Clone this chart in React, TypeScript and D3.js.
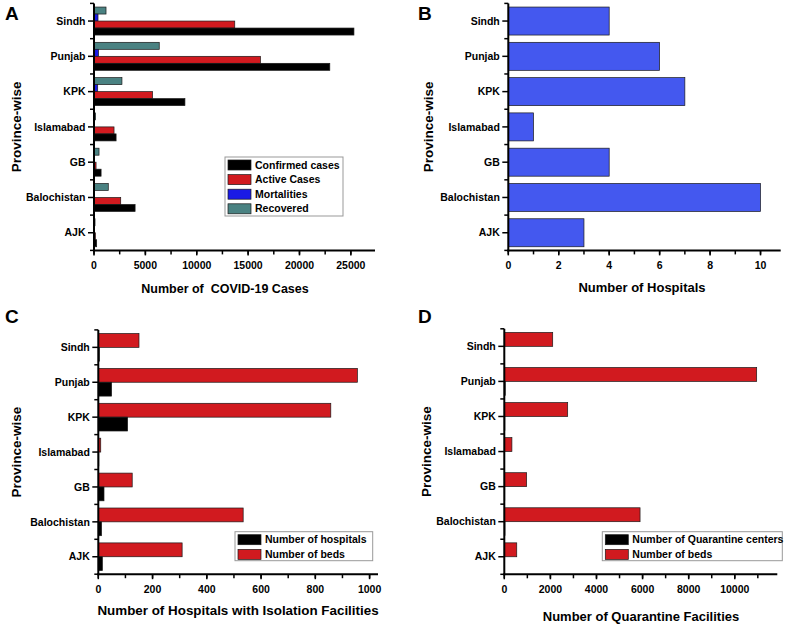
import React from "react";
import * as d3 from "d3";

const provinces = ["Sindh", "Punjab", "KPK", "Islamabad", "GB", "Balochistan", "AJK"];

// Panel A
const confirmedCases = [25300, 22950, 8850, 2150, 690, 4000, 260];
const activeCases = [13700, 16200, 5700, 1950, 200, 2600, 140];
const mortalities = [390, 440, 360, 20, 10, 40, 5];
const recovered = [1170, 6350, 2720, 160, 490, 1390, 100];
const ticksA = [0, 5000, 10000, 15000, 20000, 25000];

// Panel B
const hospitals = [4, 6, 7, 1, 4, 10, 3];
const ticksB = [0, 2, 4, 6, 8, 10];

// Panel C
const isolationHospitals = [4, 49, 108, 2, 21, 12, 15];
const isolationBeds = [150, 955, 857, 9, 125, 534, 309];
const ticksC = [0, 200, 400, 600, 800, 1000];

// Panel D
const quarantineCenters = [15, 40, 25, 5, 20, 30, 10];
const quarantineBeds = [2100, 10950, 2750, 330, 970, 5890, 540];
const ticksD = [0, 2000, 4000, 6000, 8000, 10000];

const FONT = "'Liberation Sans', Arial, Helvetica, sans-serif";
const RED = "#d11a1f";
const BLACK = "#000000";
const BLUE_M = "#1a1ae6";
const TEAL = "#4a8282";
const BLUE_B = "#4458ef";

type Series = { name: string; values: number[]; color: string };

type PanelProps = {
  letter: string;
  letterX: number;
  letterY: number;
  x0: number;
  x1: number;
  top: number;
  bottom: number;
  xMax: number;
  ticks: number[];
  minorStep: number;
  series: Series[]; // top to bottom within band
  padOuter: number;
  title: string;
  titleX: number;
  titleY: number;
  titleSize: number;
  yTitleX: number;
  tickLabelDy: number;
  legend?: { x: number; y: number; w: number; h: number; rowH: number; items: Series[] };
};

function Panel(p: PanelProps) {
  const x = d3.scaleLinear().domain([0, p.xMax]).range([p.x0, p.x1]);
  const y = d3.scaleBand<string>().domain(provinces).range([p.top, p.bottom]).paddingInner(0).paddingOuter(0);
  const inner = d3
    .scaleBand<string>()
    .domain(p.series.map((s) => s.name))
    .range([0, y.bandwidth()])
    .paddingInner(0)
    .paddingOuter(p.padOuter);
  const minor = d3.range(0, p.xMax + 1e-9, p.minorStep);
  const boundaries = d3.range(0, provinces.length + 1).map((i) => p.top + i * y.step());
  const yMid = (p.top + p.bottom) / 2;
  return (
    <g>
      <text x={p.letterX} y={p.letterY} fontSize={19} fontWeight="bold" fontFamily={FONT}>
        {p.letter}
      </text>
      {p.series.map((s) =>
        s.values.map((v, i) => (
          <rect
            key={s.name + i}
            x={x(0)}
            y={(y(provinces[i]) as number) + (inner(s.name) as number)}
            width={Math.max(0, x(v) - x(0))}
            height={inner.bandwidth()}
            fill={s.color}
            stroke="#1a1a1a"
            strokeWidth={0.7}
          />
        ))
      )}
      {/* y axis */}
      <line x1={p.x0} x2={p.x0} y1={p.top} y2={p.bottom + 1} stroke="#000" strokeWidth={2} />
      {boundaries.map((b, i) => (
        <line key={"yb" + i} x1={p.x0 - 4} x2={p.x0} y1={b} y2={b} stroke="#000" strokeWidth={1.5} />
      ))}
      {provinces.map((c) => {
        const cy = (y(c) as number) + y.bandwidth() / 2;
        return (
          <g key={"yl" + c}>
            <line x1={p.x0 - 6} x2={p.x0} y1={cy} y2={cy} stroke="#000" strokeWidth={1.5} />
            <text
              x={p.x0 - 8.5}
              y={cy}
              dy="0.35em"
              textAnchor="end"
              fontSize={10.5}
              fontWeight="bold"
              fontFamily={FONT}
            >
              {c}
            </text>
          </g>
        );
      })}
      {/* x axis */}
      <line x1={p.x0 - 1} x2={p.x1} y1={p.bottom} y2={p.bottom} stroke="#000" strokeWidth={2} />
      {minor.map((m, i) => (
        <line key={"xm" + i} x1={x(m)} x2={x(m)} y1={p.bottom} y2={p.bottom + 4} stroke="#000" strokeWidth={1.5} />
      ))}
      {p.ticks.map((t) => (
        <g key={"xt" + t}>
          <line x1={x(t)} x2={x(t)} y1={p.bottom} y2={p.bottom + 5} stroke="#000" strokeWidth={1.5} />
          <text
            x={x(t)}
            y={p.bottom + p.tickLabelDy}
            textAnchor="middle"
            fontSize={10.5}
            fontWeight="bold"
            fontFamily={FONT}
          >
            {t}
          </text>
        </g>
      ))}
      <text
        x={p.titleX}
        y={p.titleY}
        textAnchor="middle"
        fontSize={p.titleSize}
        fontWeight="bold"
        fontFamily={FONT}
        style={{ whiteSpace: "pre" }}
      >
        {p.title}
      </text>
      <text
        transform={`translate(${p.yTitleX},${yMid}) rotate(-90)`}
        textAnchor="middle"
        dy="0.35em"
        fontSize={13.5}
        fontWeight="bold"
        fontFamily={FONT}
      >
        Province-wise
      </text>
      {p.legend && (
        <g>
          <rect
            x={p.legend.x}
            y={p.legend.y}
            width={p.legend.w}
            height={p.legend.h}
            fill="#fff"
            stroke="#999"
            strokeWidth={1}
          />
          {p.legend.items.map((it, i) => {
            const cy = p.legend!.y + 8 + i * p.legend!.rowH;
            return (
              <g key={"lg" + it.name}>
                <rect x={p.legend!.x + 3} y={cy - 5} width={23} height={10} fill={it.color} stroke="#1a1a1a" strokeWidth={0.7} />
                <text x={p.legend!.x + 30} y={cy} dy="0.35em" fontSize={10.5} fontWeight="bold" fontFamily={FONT}>
                  {it.name}
                </text>
              </g>
            );
          })}
        </g>
      )}
    </g>
  );
}

export default function App() {
  const seriesA: Series[] = [
    { name: "Recovered", values: recovered, color: TEAL },
    { name: "Mortalities", values: mortalities, color: BLUE_M },
    { name: "Active Cases", values: activeCases, color: RED },
    { name: "Confirmed cases", values: confirmedCases, color: BLACK },
  ];
  const seriesB: Series[] = [{ name: "Number of Hospitals", values: hospitals, color: BLUE_B }];
  const seriesC: Series[] = [
    { name: "Number of beds", values: isolationBeds, color: RED },
    { name: "Number of hospitals", values: isolationHospitals, color: BLACK },
  ];
  const seriesD: Series[] = [
    { name: "Number of beds", values: quarantineBeds, color: RED },
    { name: "Number of Quarantine centers", values: quarantineCenters, color: BLACK },
  ];
  return (
    <svg
      width={788}
      height={629}
      style={{ position: "absolute", left: 0, top: 0, background: "#fff" }}
    >
      <Panel
        letter="A"
        letterX={5}
        letterY={20}
        x0={94}
        x1={375}
        top={3.4}
        bottom={250.4}
        xMax={27350}
        ticks={ticksA}
        minorStep={2500}
        series={seriesA}
        padOuter={0.52}
        title="Number of  COVID-19 Cases"
        titleX={225}
        titleY={293}
        titleSize={12.5}
        yTitleX={16}
        tickLabelDy={19}
        legend={{ x: 225, y: 157, w: 118, h: 59, rowH: 14.6, items: [seriesA[3], seriesA[2], seriesA[1], seriesA[0]] }}
      />
      <Panel
        letter="B"
        letterX={418}
        letterY={20}
        x0={508.3}
        x1={780.7}
        top={3.4}
        bottom={250.4}
        xMax={10.8}
        ticks={ticksB}
        minorStep={1}
        series={seriesB}
        padOuter={0.13}
        title="Number of Hospitals"
        titleX={642}
        titleY={292}
        titleSize={13}
        yTitleX={428.5}
        tickLabelDy={19}
      />
      <Panel
        letter="C"
        letterX={5}
        letterY={323}
        x0={98.3}
        x1={378}
        top={329.9}
        bottom={574.2}
        xMax={1031}
        ticks={ticksC}
        minorStep={100}
        series={seriesC}
        padOuter={0.26}
        title="Number of Hospitals with Isolation Facilities"
        titleX={238}
        titleY={615}
        titleSize={13.4}
        yTitleX={16.5}
        tickLabelDy={18.5}
        legend={{ x: 235, y: 531.7, w: 137.7, h: 29, rowH: 14.7, items: [seriesC[1], seriesC[0]] }}
      />
      <Panel
        letter="D"
        letterX={418}
        letterY={323}
        x0={504.3}
        x1={777.3}
        top={328.8}
        bottom={574.3}
        xMax={11845}
        ticks={ticksD}
        minorStep={1000}
        series={seriesD}
        padOuter={0.26}
        title="Number of Quarantine Facilities"
        titleX={641}
        titleY={621}
        titleSize={13}
        yTitleX={426}
        tickLabelDy={18.5}
        legend={{ x: 602.3, y: 531.7, w: 180, h: 29, rowH: 14.7, items: [seriesD[1], seriesD[0]] }}
      />
    </svg>
  );
}
